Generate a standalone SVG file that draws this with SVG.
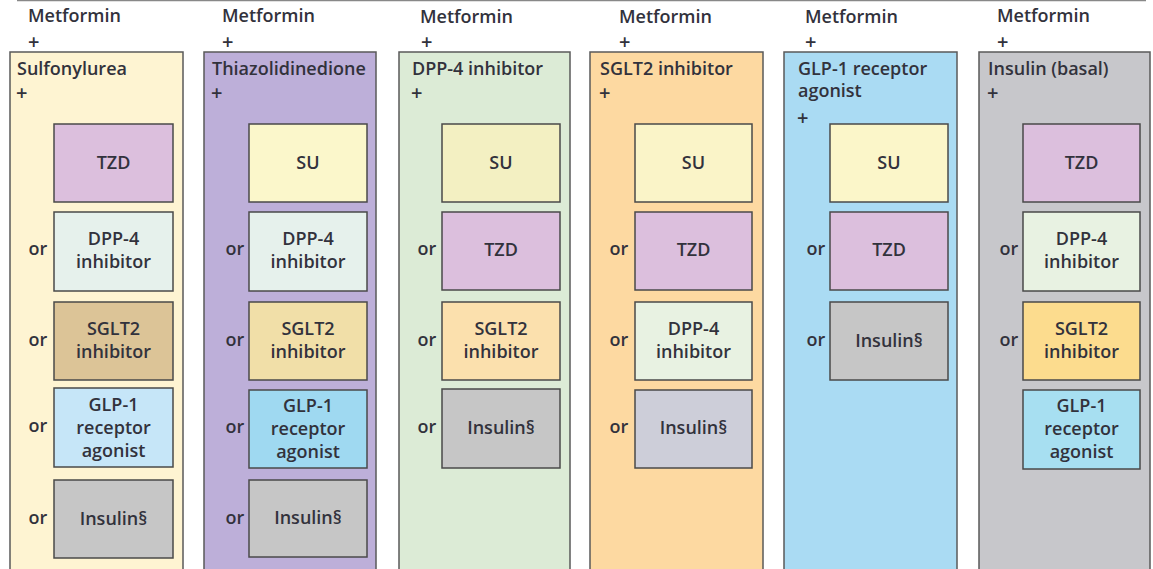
<svg xmlns="http://www.w3.org/2000/svg" width="1153" height="569" viewBox="0 0 1153 569">
<style>
text{font-family:"Open Sans","Liberation Sans",sans-serif;font-weight:600;fill:#32323c;font-size:18px}
.c{text-anchor:middle}
.p{font-size:20px}
.col{stroke:#5a5a5a;stroke-width:1.5}
.b{stroke:#4a4a4a;stroke-width:1.5}
.tzd{fill:#dcbfdd}.dpp{fill:#e6f1ec}.ins{fill:#c6c6c6}
</style>
<rect width="1153" height="569" fill="#fff"/>
<line x1="17" y1="0.5" x2="1146" y2="0.5" stroke="#888" stroke-width="1.5"/>
<g id="col1">
<text x="28" y="22">Metformin</text><text class="p" x="28" y="49">+</text>
<rect class="col" x="10" y="52" width="173" height="530" fill="#fef4d2"/>
<text x="17" y="75">Sulfonylurea</text><text class="p" x="16" y="100">+</text>
<rect class="b tzd" x="54" y="124" width="119" height="78"/><text class="c" x="113.5" y="169">TZD</text>
<text class="c" x="38" y="255">or</text><rect class="b dpp" x="54" y="212" width="119" height="79"/><text class="c" x="113.5" y="245">DPP-4</text><text class="c" x="113.5" y="268">inhibitor</text>
<text class="c" x="38" y="346">or</text><rect class="b" fill="#dcc497" x="54" y="302" width="119" height="78"/><text class="c" x="113.5" y="335">SGLT2</text><text class="c" x="113.5" y="358">inhibitor</text>
<text class="c" x="38" y="432">or</text><rect class="b" fill="#c6e6f8" x="54" y="388" width="119" height="79"/><text class="c" x="113.5" y="411">GLP-1</text><text class="c" x="113.5" y="434">receptor</text><text class="c" x="113.5" y="457">agonist</text>
<text class="c" x="38" y="524">or</text><rect class="b ins" x="54" y="480" width="119" height="78"/><text class="c" x="113.5" y="525">Insulin§</text>
</g>
<g id="col2">
<text x="222" y="22">Metformin</text><text class="p" x="222" y="49">+</text>
<rect class="col" x="204" y="52" width="172" height="530" fill="#bdafd9"/>
<text x="212" y="75">Thiazolidinedione</text><text class="p" x="211" y="100">+</text>
<rect class="b" fill="#fbf7cb" x="249" y="124" width="118" height="78"/><text class="c" x="308" y="169">SU</text>
<text class="c" x="235" y="255">or</text><rect class="b dpp" x="249" y="212" width="118" height="79"/><text class="c" x="308" y="245">DPP-4</text><text class="c" x="308" y="268">inhibitor</text>
<text class="c" x="235" y="346">or</text><rect class="b" fill="#f1dfa8" x="249" y="302" width="118" height="78"/><text class="c" x="308" y="335">SGLT2</text><text class="c" x="308" y="358">inhibitor</text>
<text class="c" x="235" y="433">or</text><rect class="b" fill="#9fd9f1" x="249" y="390" width="118" height="78"/><text class="c" x="308" y="412">GLP-1</text><text class="c" x="308" y="435">receptor</text><text class="c" x="308" y="458">agonist</text>
<text class="c" x="235" y="524">or</text><rect class="b ins" x="249" y="480" width="118" height="77"/><text class="c" x="308" y="524">Insulin§</text>
</g>
<g id="col3">
<text x="420" y="23">Metformin</text><text class="p" x="421" y="49">+</text>
<rect class="col" x="399" y="52" width="171" height="530" fill="#dcebd6"/>
<text x="412" y="75">DPP-4 inhibitor</text><text class="p" x="411" y="100">+</text>
<rect class="b" fill="#f3f0c2" x="442" y="124" width="118" height="78"/><text class="c" x="501" y="169">SU</text>
<text class="c" x="427" y="255">or</text><rect class="b tzd" x="442" y="212" width="118" height="78"/><text class="c" x="501" y="256">TZD</text>
<text class="c" x="427" y="346">or</text><rect class="b" fill="#fbe0ad" x="442" y="302" width="118" height="78"/><text class="c" x="501" y="335">SGLT2</text><text class="c" x="501" y="358">inhibitor</text>
<text class="c" x="427" y="433">or</text><rect class="b ins" x="442" y="389" width="118" height="79"/><text class="c" x="501" y="434">Insulin§</text>
</g>
<g id="col4">
<text x="619" y="23">Metformin</text><text class="p" x="619" y="49">+</text>
<rect class="col" x="590" y="52" width="173" height="530" fill="#fdd9a1"/>
<text x="600" y="75">SGLT2 inhibitor</text><text class="p" x="599" y="100">+</text>
<rect class="b" fill="#faf4c8" x="635" y="124" width="117" height="78"/><text class="c" x="693.5" y="169">SU</text>
<text class="c" x="619" y="255">or</text><rect class="b tzd" x="635" y="212" width="117" height="78"/><text class="c" x="693.5" y="256">TZD</text>
<text class="c" x="619" y="346">or</text><rect class="b" fill="#e8f2e2" x="635" y="302" width="117" height="78"/><text class="c" x="693.5" y="335">DPP-4</text><text class="c" x="693.5" y="358">inhibitor</text>
<text class="c" x="619" y="433">or</text><rect class="b" fill="#cdced9" x="635" y="390" width="117" height="78"/><text class="c" x="693.5" y="434">Insulin§</text>
</g>
<g id="col5">
<text x="805" y="23">Metformin</text><text class="p" x="805" y="49">+</text>
<rect class="col" x="784" y="52" width="173" height="530" fill="#aadbf3"/>
<text x="798" y="75">GLP-1 receptor</text><text x="798" y="97">agonist</text><text class="p" x="797" y="125">+</text>
<rect class="b" fill="#fbf6c9" x="830" y="124" width="118" height="78"/><text class="c" x="889" y="169">SU</text>
<text class="c" x="816" y="255">or</text><rect class="b tzd" x="830" y="212" width="118" height="78"/><text class="c" x="889" y="256">TZD</text>
<text class="c" x="816" y="346">or</text><rect class="b ins" x="830" y="302" width="118" height="78"/><text class="c" x="889" y="347">Insulin§</text>
</g>
<g id="col6">
<text x="997" y="22">Metformin</text><text class="p" x="997" y="49">+</text>
<rect class="col" x="979" y="52" width="171" height="530" fill="#c7c7cb"/>
<text x="988" y="75">Insulin (basal)</text><text class="p" x="987" y="100">+</text>
<rect class="b tzd" x="1023" y="124" width="117" height="78"/><text class="c" x="1081.5" y="169">TZD</text>
<text class="c" x="1009" y="255">or</text><rect class="b" fill="#e8f2e2" x="1023" y="212" width="117" height="79"/><text class="c" x="1081.5" y="245">DPP-4</text><text class="c" x="1081.5" y="268">inhibitor</text>
<text class="c" x="1009" y="346">or</text><rect class="b" fill="#fcdc8e" x="1023" y="302" width="117" height="78"/><text class="c" x="1081.5" y="335">SGLT2</text><text class="c" x="1081.5" y="358">inhibitor</text>
<rect class="b" fill="#a7dff1" x="1023" y="390" width="117" height="79"/><text class="c" x="1081.5" y="412">GLP-1</text><text class="c" x="1081.5" y="435">receptor</text><text class="c" x="1081.5" y="458">agonist</text>
</g>
<g id="connectors"></g>
</svg>
